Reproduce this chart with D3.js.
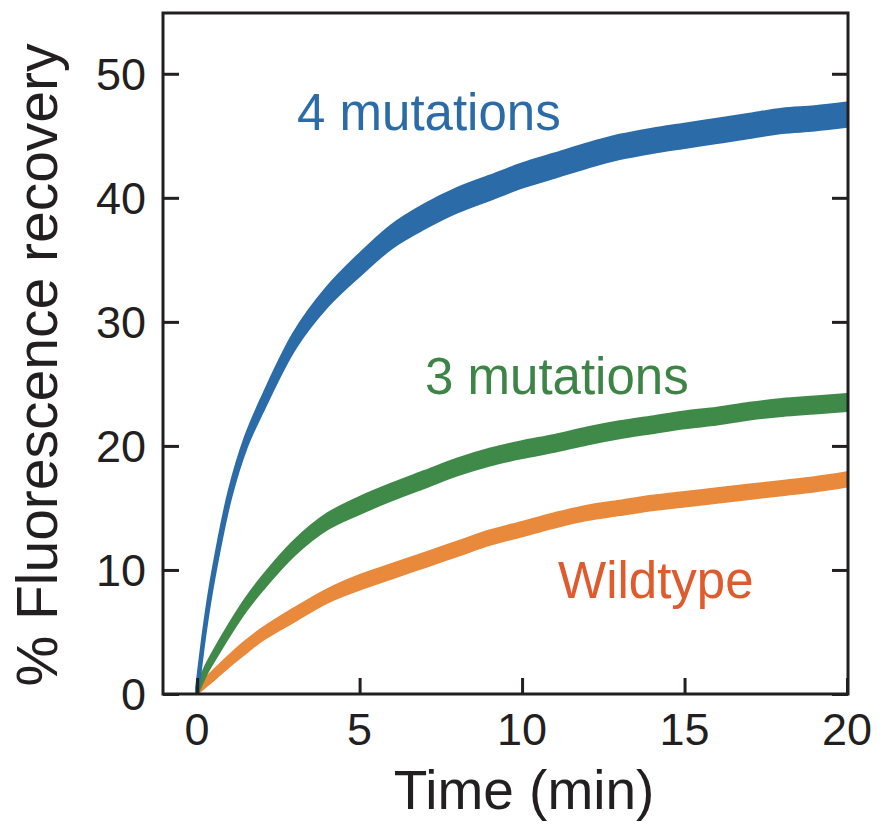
<!DOCTYPE html>
<html>
<head>
<meta charset="utf-8">
<script src="https://cdn.jsdelivr.net/npm/d3@7"></script>
<style>
  body { margin: 0; background: #fff; }
  svg { display: block; }
  text { font-family: "Liberation Sans", Arial, Helvetica, sans-serif; }
</style>
</head>
<body>
<div id="viz"></div>
<script>
// data
const time = [0, 0.25, 0.5, 1, 1.5, 2, 3, 4, 5, 6, 7, 8, 9, 10, 11, 12, 13, 14, 15, 16, 17, 18, 19, 20];
const fourMut = [0.3, 5.5, 9.6, 16, 20.3, 23.3, 28.5, 32, 34.6, 36.9, 38.5, 39.8, 40.8, 41.8, 42.6, 43.4, 44.1, 44.6, 45, 45.4, 45.8, 46.2, 46.4, 46.7];
const threeMut = [0.3, 1.8, 3, 5.2, 7.2, 8.9, 11.8, 13.9, 15.2, 16.3, 17.3, 18.3, 19.1, 19.7, 20.2, 20.8, 21.3, 21.7, 22.1, 22.4, 22.8, 23.1, 23.3, 23.5];
const wildtype = [0.3, 0.9, 1.5, 2.7, 3.8, 4.8, 6.4, 7.9, 9, 9.9, 10.8, 11.7, 12.6, 13.3, 14, 14.6, 15, 15.4, 15.7, 16, 16.3, 16.6, 16.9, 17.3];
// half-width of the noise band (% units)
const fourSpread = [0.2, 0.25, 0.3, 0.35, 0.4, 0.5, 0.6, 0.7, 0.8, 0.85, 0.9, 0.9, 0.9, 0.9, 0.9, 0.9, 0.9, 0.9, 0.9, 0.9, 0.9, 0.9, 0.9, 0.9];
const threeSpread = [0.2, 0.25, 0.3, 0.35, 0.4, 0.45, 0.5, 0.55, 0.6, 0.6, 0.6, 0.6, 0.6, 0.6, 0.6, 0.6, 0.6, 0.6, 0.6, 0.6, 0.6, 0.6, 0.6, 0.6];
const wildSpread = [0.2, 0.25, 0.3, 0.35, 0.4, 0.4, 0.45, 0.45, 0.5, 0.5, 0.5, 0.5, 0.5, 0.5, 0.5, 0.5, 0.5, 0.5, 0.5, 0.5, 0.5, 0.5, 0.5, 0.5];
const xTicks = [0, 5, 10, 15, 20];
const yTicks = [0, 10, 20, 30, 40, 50];

const W = 882, H = 824;
const plotL = 163, plotT = 13, plotR = 848, plotB = 694;

const svg = d3.select("#viz").append("svg")
    .attr("width", W)
    .attr("height", H);

const x = d3.scaleLinear().domain([-1.05, 20.03]).range([plotL, plotR]);
const y = d3.scaleLinear().domain([0, 54.9]).range([plotB, plotT]);

const series = [
  { vals: wildtype, spread: wildSpread, color: "#e8893b" },
  { vals: threeMut, spread: threeSpread, color: "#3f8a48" },
  { vals: fourMut, spread: fourSpread, color: "#2b6ca8" }
];

const band = d3.area()
    .x(d => x(d.t))
    .y0(d => y(d.v - d.s))
    .y1(d => y(d.v + d.s))
    .curve(d3.curveCatmullRom.alpha(0.5));

series.forEach(s => {
  const pts = time.map((t, i) => ({ t: t, v: s.vals[i], s: s.spread[i] }));
  svg.append("path")
      .datum(pts)
      .attr("d", band)
      .attr("fill", s.color)
      .attr("stroke", s.color)
      .attr("stroke-width", 4)
      .attr("stroke-linejoin", "round");
});

// frame
const ink = "#231f20";
svg.append("rect")
    .attr("x", plotL).attr("y", plotT)
    .attr("width", plotR - plotL).attr("height", plotB - plotT)
    .attr("fill", "none")
    .attr("stroke", ink)
    .attr("stroke-width", 3);

// inward ticks
const tickLen = 16;
svg.append("g").attr("transform", `translate(0,${plotB})`)
    .call(d3.axisBottom(x).tickValues(xTicks).tickSizeInner(-tickLen).tickSizeOuter(0).tickFormat(""))
    .call(g => g.select(".domain").remove())
    .call(g => g.selectAll("line").attr("stroke", ink).attr("stroke-width", 3));
svg.append("g").attr("transform", `translate(${plotL},0)`)
    .call(d3.axisLeft(y).tickValues(yTicks).tickSizeInner(-tickLen).tickSizeOuter(0).tickFormat(""))
    .call(g => g.select(".domain").remove())
    .call(g => g.selectAll("line").attr("stroke", ink).attr("stroke-width", 3));
svg.append("g").attr("transform", `translate(${plotR},0)`)
    .call(d3.axisRight(y).tickValues(yTicks).tickSizeInner(-tickLen).tickSizeOuter(0).tickFormat(""))
    .call(g => g.select(".domain").remove())
    .call(g => g.selectAll("line").attr("stroke", ink).attr("stroke-width", 3));

// tick labels
svg.append("g").selectAll("text")
    .data(xTicks)
    .join("text")
    .attr("x", d => x(d))
    .attr("y", 745)
    .attr("text-anchor", "middle")
    .attr("font-size", 45)
    .attr("fill", ink)
    .text(d => d);

svg.append("g").selectAll("text")
    .data(yTicks)
    .join("text")
    .attr("x", 146)
    .attr("y", d => y(d) + 16)
    .attr("text-anchor", "end")
    .attr("font-size", 45)
    .attr("fill", ink)
    .text(d => d);

// axis titles
svg.append("text")
    .attr("x", 524)
    .attr("y", 809)
    .attr("text-anchor", "middle")
    .attr("font-size", 55)
    .attr("fill", ink)
    .text("Time (min)");

svg.append("text")
    .attr("transform", "translate(57,365) rotate(-90)")
    .attr("text-anchor", "middle")
    .attr("font-size", 57)
    .attr("fill", ink)
    .text("% Fluorescence recovery");

// series labels
svg.append("text")
    .attr("x", 297).attr("y", 130)
    .attr("font-size", 51)
    .attr("fill", "#2b6ca8")
    .text("4 mutations");
svg.append("text")
    .attr("x", 425).attr("y", 394)
    .attr("font-size", 51)
    .attr("fill", "#3d8547")
    .text("3 mutations");
svg.append("text")
    .attr("x", 558).attr("y", 598)
    .attr("font-size", 51)
    .attr("fill", "#df5a2c")
    .text("Wildtype");
</script>
</body>
</html>
